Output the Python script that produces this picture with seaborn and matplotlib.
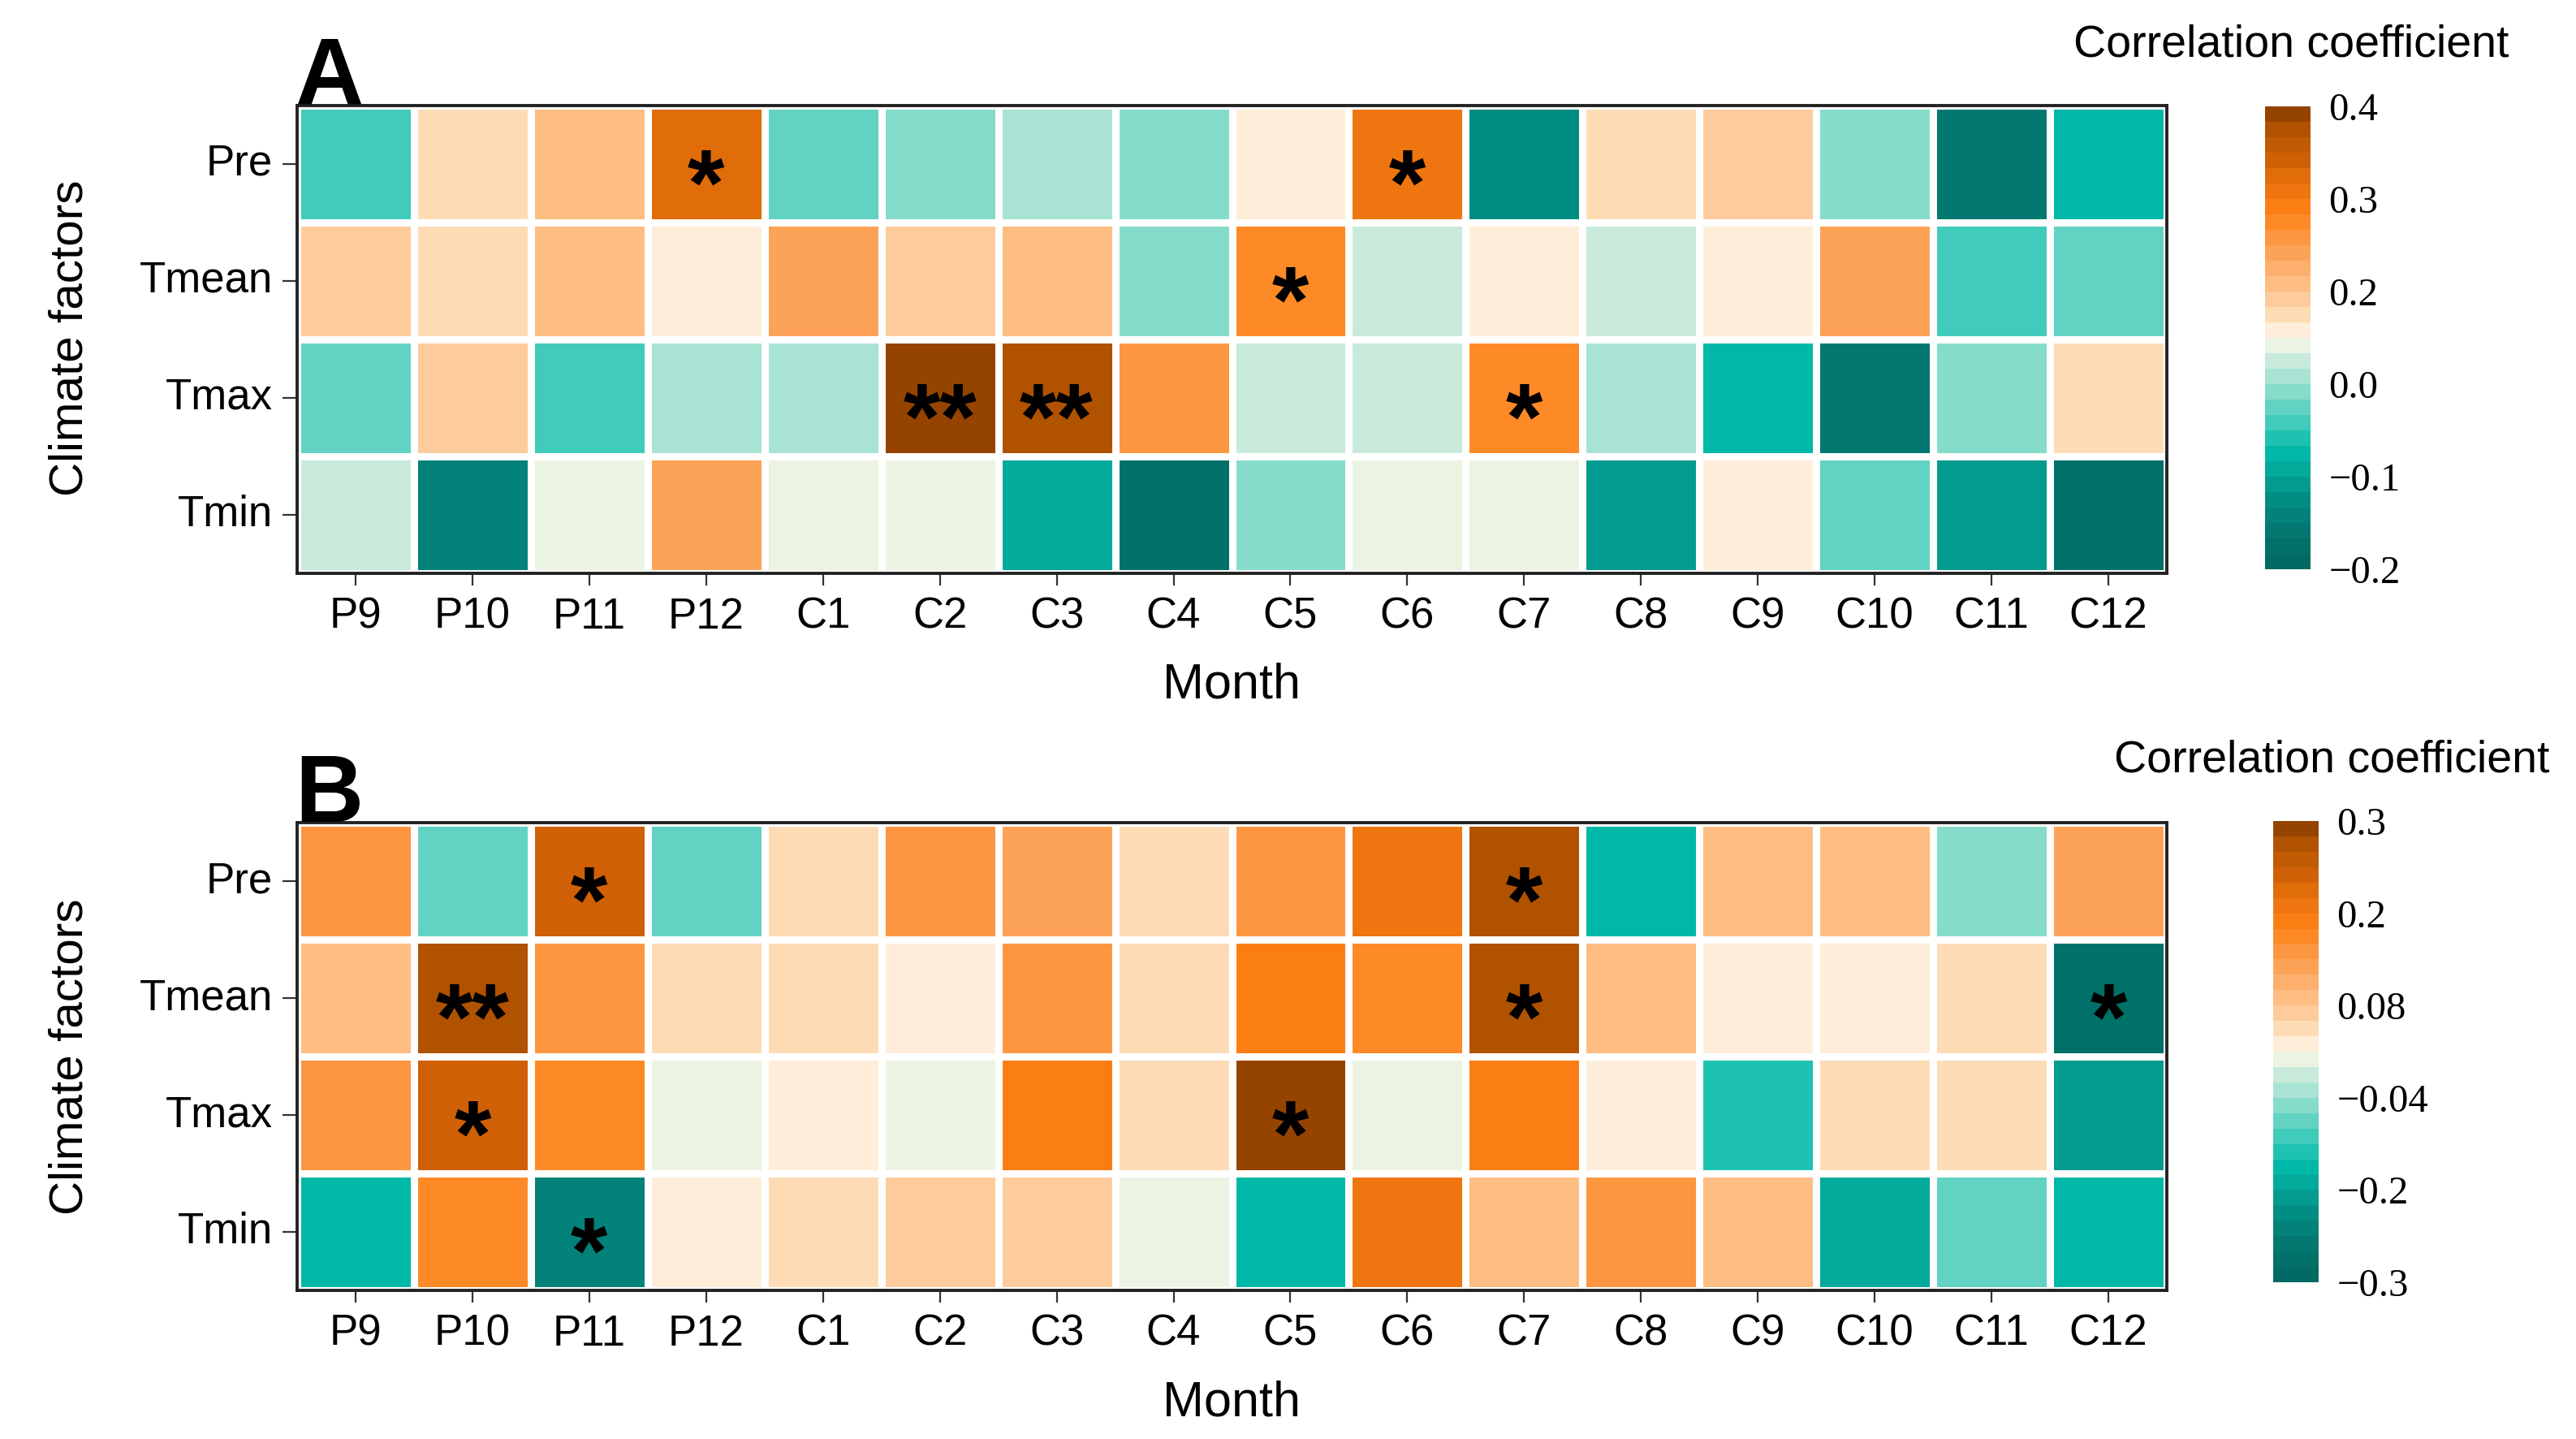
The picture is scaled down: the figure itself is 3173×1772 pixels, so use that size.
import numpy as np
import pandas as pd
import seaborn as sns
import matplotlib.pyplot as plt
from matplotlib.colors import ListedColormap, FuncNorm

months = ['P9', 'P10', 'P11', 'P12', 'C1', 'C2', 'C3', 'C4',
          'C5', 'C6', 'C7', 'C8', 'C9', 'C10', 'C11', 'C12']
factors = ['Pre', 'Tmean', 'Tmax', 'Tmin']

# ---- panel A: correlation coefficients ----
pre_a = [-0.04, 0.15, 0.21, 0.33, -0.03, -0.01, 0.02, -0.01,
         0.12, 0.31, -0.13, 0.15, 0.18, -0.01, -0.16, -0.08]
tmean_a = [0.18, 0.15, 0.21, 0.12, 0.24, 0.18, 0.21, -0.01,
           0.28, 0.05, 0.12, 0.05, 0.12, 0.24, -0.04, -0.03]
tmax_a = [-0.03, 0.18, -0.04, 0.02, 0.02, 0.39, 0.37, 0.26,
          0.05, 0.05, 0.28, 0.02, -0.08, -0.16, -0.01, 0.15]
tmin_a = [0.05, -0.14, 0.08, 0.24, 0.08, 0.08, -0.09, -0.18,
          -0.01, 0.08, 0.08, -0.11, 0.12, -0.03, -0.11, -0.18]
sig_a = [('Pre', 'P12', '*'), ('Pre', 'C6', '*'), ('Tmean', 'C5', '*'),
         ('Tmax', 'C2', '**'), ('Tmax', 'C3', '**'), ('Tmax', 'C7', '*')]
ticks_a = [-0.2, -0.1, 0.0, 0.2, 0.3, 0.4]
labels_a = ['\u22120.2', '\u22120.1', '0.0', '0.2', '0.3', '0.4']

# ---- panel B ----
pre_b = [0.15, -0.08, 0.24, -0.08, 0.05, 0.15, 0.13, 0.05,
         0.15, 0.21, 0.27, -0.165, 0.09, 0.09, -0.05, 0.13]
tmean_b = [0.09, 0.27, 0.15, 0.05, 0.05, 0.03, 0.15, 0.05,
           0.19, 0.17, 0.27, 0.09, 0.03, 0.03, 0.05, -0.27]
tmax_b = [0.15, 0.24, 0.17, 0.01, 0.03, 0.01, 0.19, 0.05,
          0.29, 0.01, 0.19, 0.03, -0.13, 0.05, 0.05, -0.21]
tmin_b = [-0.165, 0.17, -0.24, 0.03, 0.05, 0.07, 0.07, 0.01,
          -0.165, 0.21, 0.09, 0.15, 0.09, -0.19, -0.08, -0.165]
sig_b = [('Pre', 'P11', '*'), ('Pre', 'C7', '*'), ('Tmean', 'P10', '**'),
         ('Tmean', 'C7', '*'), ('Tmean', 'C12', '*'), ('Tmax', 'P10', '*'),
         ('Tmax', 'C5', '*'), ('Tmin', 'P11', '*')]
ticks_b = [-0.3, -0.2, -0.04, 0.08, 0.2, 0.3]
labels_b = ['\u22120.3', '\u22120.2', '\u22120.04', '0.08', '0.2', '0.3']

# stepped teal -> cream -> brown palette (low to high)
palette = ['#016a64', '#017069', '#027870', '#028279', '#028d83', '#039b8f',
           '#02aa9c', '#00b8a8', '#1ec2b2', '#40cbba', '#62d3c2', '#86dcca',
           '#a8e3d4', '#c8eadb', '#ebf3e3', '#feeed9', '#fddcb5', '#fdcb9c',
           '#fdbd83', '#fdb06d', '#fda357', '#fd9640', '#fd8a26', '#fb7e14',
           '#ef7510', '#e06c0a', '#d06006', '#c05a03', '#b05200', '#954400']
cmap = ListedColormap(palette)

sns.set_style('white')
plt.rcParams['font.family'] = ['Liberation Sans', 'DejaVu Sans']
plt.rcParams['text.color'] = 'black'

W, H = 3173, 1772
fig = plt.figure(figsize=(W / 200, H / 200), dpi=200)


def px(x0, y0, x1, y1):
    # pixel box -> figure fraction rect
    return [x0 / W, 1 - y1 / H, (x1 - x0) / W, (y1 - y0) / H]


def make_norm(ticks):
    # colour bar ticks are evenly spaced, so map them piecewise-linearly
    pos = np.linspace(0, 1, len(ticks))
    return FuncNorm((lambda v: np.interp(v, ticks, pos),
                     lambda p: np.interp(p, pos, ticks)),
                    vmin=ticks[0], vmax=ticks[-1])


def panel(rows, sig, ticks, labels, ax_box, cax_box, letter, letter_y,
          title_x, title_y, ylab_y, xlab_y):
    df = pd.DataFrame(rows, index=factors, columns=months)
    annot = pd.DataFrame('', index=factors, columns=months)
    for f, m, s in sig:
        annot.loc[f, m] = s

    ax = fig.add_axes(px(*ax_box))
    cax = fig.add_axes(px(*cax_box))
    sns.heatmap(df, ax=ax, cbar_ax=cax, cmap=cmap, norm=make_norm(ticks),
                linewidths=2.6, linecolor='white',
                annot=annot.values, fmt='',
                annot_kws=dict(color='black', fontsize=42, fontweight='bold'),
                cbar_kws={'ticks': ticks})
    # push the asterisks down to the cell centre
    for t in ax.texts:
        x, y = t.get_position()
        t.set_position((x, y + 0.23))

    for s in ax.spines.values():
        s.set_visible(True)
        s.set_linewidth(1.4)
        s.set_color('#222222')
    ax.set_xlabel('')
    ax.set_ylabel('')
    ax.set_xticklabels(months, rotation=0)
    ax.set_yticklabels(factors, rotation=0)
    ax.tick_params(axis='x', bottom=True, length=5.4, width=0.8,
                   color='#333333', pad=5, labelsize=19, labelcolor='black')
    ax.tick_params(axis='y', left=True, length=6.5, width=0.8,
                   color='#333333', pad=4.3, labelsize=19, labelcolor='black')

    cbar = ax.collections[0].colorbar
    cbar.outline.set_visible(False)
    cbar.set_ticks(ticks)
    cbar.set_ticklabels(labels)
    cax.yaxis.set_ticks_position('both')
    cax.tick_params(direction='in', color='white', length=5, width=0.8,
                    labelleft=False, labelright=True, pad=8,
                    labelsize=17.5, labelcolor='black',
                    labelfontfamily='Liberation Serif')
    cax.minorticks_off()

    fig.text(363 / W, 1 - letter_y / H, letter, fontsize=42,
             fontweight='bold', ha='left', va='baseline')
    fig.text(title_x / W, 1 - title_y / H, 'Correlation coefficient',
             fontsize=20, ha='right', va='baseline')
    fig.text(87 / W, 1 - ylab_y / H, 'Climate factors', fontsize=21,
             rotation=90, ha='center', va='center')
    fig.text(1517 / W, 1 - xlab_y / H, 'Month', fontsize=22,
             ha='center', va='baseline')


panel([pre_a, tmean_a, tmax_a, tmin_a], sig_a, ticks_a, labels_a,
      (366, 130, 2669, 706), (2790, 131, 2846, 701), 'A', 129,
      3090, 70, 416, 860)
panel([pre_b, tmean_b, tmax_b, tmin_b], sig_b, ticks_b, labels_b,
      (366, 1013, 2669, 1589), (2800, 1011, 2856, 1579), 'B', 1012,
      3140, 951, 1301, 1743)

fig.savefig('out.png', dpi=200)
